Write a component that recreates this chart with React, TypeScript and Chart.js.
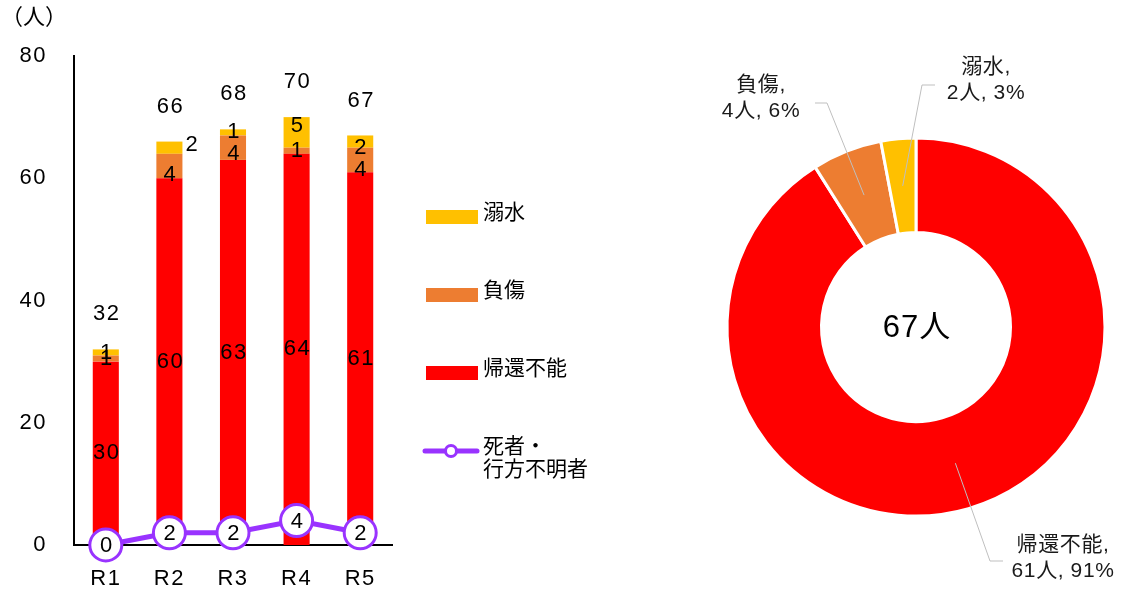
import React, { useEffect, useRef } from 'react';
import { Chart, registerables } from 'chart.js';

Chart.register(...registerables);

// ---------- data ----------
const categories = ['R1', 'R2', 'R3', 'R4', 'R5'];
const kikanFuno = [30, 60, 63, 64, 61]; // 帰還不能
const fusho = [1, 4, 4, 1, 4]; // 負傷
const dekisui = [1, 2, 1, 5, 2]; // 溺水
const shisha = [0, 2, 2, 4, 2]; // 死者・行方不明者
const yMin = 0;
const yMax = 80;
const yStep = 20;

const pieLabels = ['帰還不能', '負傷', '溺水'];
const pieValues = [61, 4, 2];

// ---------- styles ----------
const FONT = "'Liberation Sans', 'Noto Sans CJK JP', sans-serif";
const RED = '#FF0000';
const ORANGE = '#ED7D31';
const YELLOW = '#FFC000';
const PURPLE = '#9933FF';

const spacing = {
  id: 'spacing',
  beforeDraw(chart: any) {
    (chart.ctx as any).letterSpacing = '1.5px';
  },
  afterDraw(chart: any) {
    (chart.ctx as any).letterSpacing = '0px';
  },
};

const barDecor = {
  id: 'barDecor',
  afterDatasetsDraw(chart: any, _args: any, opts: any) {
    const ctx = chart.ctx as any;
    ctx.save();
    ctx.letterSpacing = '1.5px';
    ctx.fillStyle = '#000';
    ctx.textAlign = 'center';
    ctx.textBaseline = 'middle';
    ctx.font = `22px ${FONT}`;
    const offsets = opts.offsets || {};
    [0, 1, 2].forEach((di) => {
      const meta = chart.getDatasetMeta(di);
      const ds = chart.data.datasets[di];
      meta.data.forEach((el: any, i: number) => {
        const p = el.getProps(['x', 'y', 'base'], true);
        const off = offsets[`${di}-${i}`] || [0, 0];
        ctx.fillText(String(ds.data[i]), p.x + off[0] + 1, (p.y + p.base) / 2 + off[1]);
      });
    });
    // totals
    const topMeta = chart.getDatasetMeta(2);
    topMeta.data.forEach((el: any, i: number) => {
      const total = kikanFuno[i] + fusho[i] + dekisui[i];
      ctx.fillText(String(total), el.x + 1, el.y - 35);
    });
    // line labels
    const lm = chart.getDatasetMeta(3);
    lm.data.forEach((el: any, i: number) => {
      ctx.fillText(String(shisha[i]), el.x + 1, el.y + 1);
    });
    // axis unit
    ctx.letterSpacing = '0px';
    ctx.textAlign = 'left';
    ctx.font = `22px ${FONT}`;
    ctx.fillText('（人）', 1, 18);

    // legend
    ctx.font = `21px ${FONT}`;
    const items = [
      { color: YELLOW, label: '溺水', y: 217 },
      { color: ORANGE, label: '負傷', y: 295 },
      { color: RED, label: '帰還不能', y: 373 },
    ];
    items.forEach((it) => {
      ctx.fillStyle = it.color;
      ctx.fillRect(426, it.y - 7, 52, 14);
      ctx.fillStyle = '#000';
      ctx.fillText(it.label, 483, it.y - 4);
    });
    ctx.strokeStyle = PURPLE;
    ctx.lineWidth = 5;
    ctx.lineCap = 'round';
    ctx.beginPath();
    ctx.moveTo(425, 451);
    ctx.lineTo(477, 451);
    ctx.stroke();
    ctx.beginPath();
    ctx.arc(451, 451, 5.5, 0, Math.PI * 2);
    ctx.fillStyle = '#fff';
    ctx.fill();
    ctx.lineWidth = 3;
    ctx.stroke();
    ctx.fillStyle = '#000';
    ctx.fillText('死者・', 483, 447);
    ctx.fillText('行方不明者', 483, 470);
    ctx.restore();
  },
};

const pieDecor = {
  id: 'pieDecor',
  afterDraw(chart: any, _args: any, opts: any) {
    const ctx = chart.ctx as any;
    const meta = chart.getDatasetMeta(0);
    const total = pieValues.reduce((a, b) => a + b, 0);
    ctx.save();
    ctx.textAlign = 'center';
    ctx.textBaseline = 'middle';
    ctx.fillStyle = '#000';
    ctx.letterSpacing = '1px';
    ctx.font = `31px ${FONT}`;
    const first = meta.data[0];
    ctx.fillText(`${total}人`, first.x + 1, first.y + 1);

    meta.data.forEach((arc: any, i: number) => {
      const p = arc.getProps(['x', 'y', 'startAngle', 'endAngle', 'innerRadius', 'outerRadius'], true);
      const mid = (p.startAngle + p.endAngle) / 2;
      const r = (p.innerRadius + p.outerRadius) / 2;
      const ax = p.x + Math.cos(mid) * r;
      const ay = p.y + Math.sin(mid) * r;
      const c = opts.callouts[i];
      ctx.strokeStyle = '#BFBFBF';
      ctx.lineWidth = 1;
      ctx.beginPath();
      ctx.moveTo(ax, ay);
      ctx.lineTo(c.elbow[0], c.elbow[1]);
      ctx.lineTo(c.end[0], c.end[1]);
      ctx.stroke();
      ctx.font = `21px ${FONT}`;
      ctx.letterSpacing = '0.6px';
      ctx.fillStyle = '#1a1a1a';
      const pct = Math.round((pieValues[i] / total) * 100);
      ctx.fillText(`${pieLabels[i]},`, c.text[0], c.text[1]);
      ctx.fillText(`${pieValues[i]}人, ${pct}%`, c.text[0], c.text[1] + 26);
    });
    ctx.restore();
  },
};

export default function App() {
  const barRef = useRef<HTMLCanvasElement>(null);
  const pieRef = useRef<HTMLCanvasElement>(null);

  useEffect(() => {
    const bar = new Chart(barRef.current as HTMLCanvasElement, {
      type: 'bar',
      data: {
        labels: categories,
        datasets: [
          { type: 'bar', label: '帰還不能', data: kikanFuno, backgroundColor: RED, order: 1, barPercentage: 0.41, categoryPercentage: 1 },
          { type: 'bar', label: '負傷', data: fusho, backgroundColor: ORANGE, order: 1, barPercentage: 0.41, categoryPercentage: 1 },
          { type: 'bar', label: '溺水', data: dekisui, backgroundColor: YELLOW, order: 1, barPercentage: 0.41, categoryPercentage: 1 },
          {
            type: 'line',
            label: '死者・行方不明者',
            data: shisha,
            stack: 'line',
            borderColor: PURPLE,
            borderWidth: 5,
            pointRadius: 16,
            pointHoverRadius: 16,
            pointBackgroundColor: '#fff',
            pointBorderColor: PURPLE,
            pointBorderWidth: 3,
            tension: 0,
            clip: false,
            order: 0,
          } as any,
        ],
      },
      options: {
        responsive: false,
        animation: false,
        layout: { padding: { top: 56, right: 228, left: 0, bottom: 0 } },
        plugins: {
          legend: { display: false },
          tooltip: { enabled: false },
          barDecor: {
            offsets: {
              '2-1': [22, -3],
              '1-1': [0, 9],
              '1-2': [0, 6],
              '1-4': [0, 10],
              '2-3': [0, -6],
              '2-4': [0, 6],
            },
          },
        } as any,
        scales: {
          x: {
            stacked: true,
            grid: { display: false, drawTicks: false },
            border: { display: true, color: '#000', width: 2 },
            ticks: { font: { size: 22, family: FONT }, color: '#000', padding: 21 },
            afterFit: (s: any) => {
              s.height = 47;
            },
          },
          y: {
            stacked: true,
            min: yMin,
            max: yMax,
            grid: { display: false, drawTicks: false },
            border: { display: true, color: '#000', width: 2 },
            ticks: { stepSize: yStep, font: { size: 22, family: FONT }, color: '#000', padding: 27 },
            afterFit: (s: any) => {
              s.width = 74;
            },
          },
        },
      },
      plugins: [spacing, barDecor],
    } as any);

    const pie = new Chart(pieRef.current as HTMLCanvasElement, {
      type: 'doughnut',
      data: {
        labels: pieLabels,
        datasets: [
          {
            data: pieValues,
            backgroundColor: [RED, ORANGE, YELLOW],
            borderColor: '#fff',
            borderWidth: 3,
          },
        ],
      },
      options: {
        responsive: false,
        animation: false,
        radius: 189,
        cutout: '50%',
        layout: { padding: { left: 108, right: 18, top: 139, bottom: 77 } },
        plugins: {
          legend: { display: false },
          tooltip: { enabled: false },
          pieDecor: {
            callouts: [
              { elbow: [370, 561], end: [383, 561], text: [443, 545] },
              { elbow: [207, 103], end: [195, 103], text: [141, 85] },
              { elbow: [302, 85], end: [315, 85], text: [366, 67] },
            ],
          },
        } as any,
      },
      plugins: [pieDecor],
    } as any);

    return () => {
      bar.destroy();
      pie.destroy();
    };
  }, []);

  return (
    <div style={{ position: 'absolute', left: 0, top: 0, width: 1122, height: 592, background: '#fff' }}>
      <canvas
        ref={barRef}
        width={620}
        height={592}
        style={{ position: 'absolute', left: 0, top: 0, width: 620, height: 592 }}
      />
      <canvas
        ref={pieRef}
        width={502}
        height={592}
        style={{ position: 'absolute', left: 620, top: 0, width: 502, height: 592 }}
      />
    </div>
  );
}
